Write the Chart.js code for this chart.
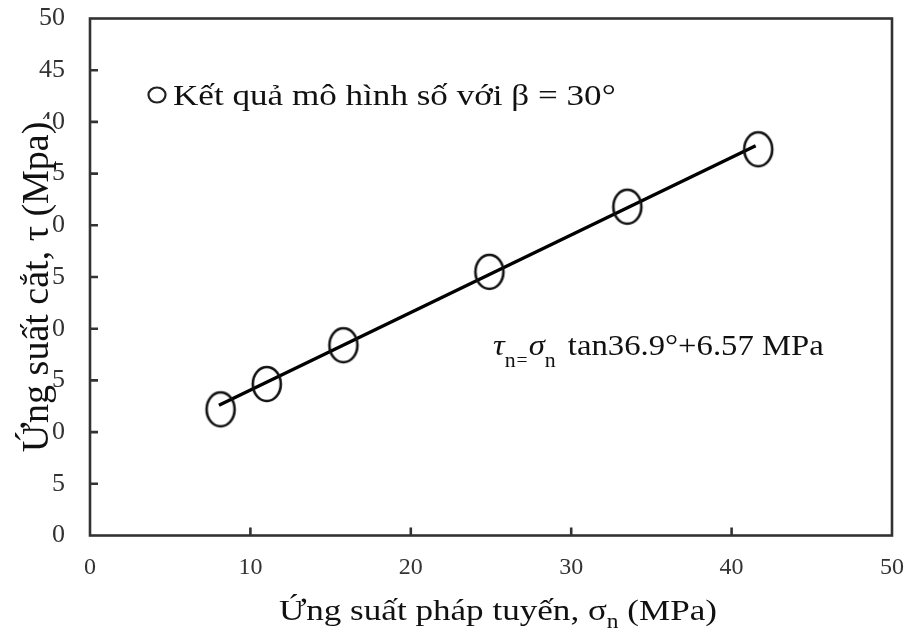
<!DOCTYPE html>
<html>
<head>
<meta charset="utf-8">
<script src="https://cdn.jsdelivr.net/npm/chart.js@4.4.1/dist/chart.umd.min.js"></script>
<style>
html,body{margin:0;padding:0;background:#fff;}
#c{display:block;}
</style>
</head>
<body>
<canvas id="c" width="908" height="632"></canvas>
<script>
// ---- data ----
const sigmaN = [8.14, 11.02, 15.8, 24.9, 33.5, 41.66];
const tauN   = [12.2, 14.65, 18.4, 25.5, 31.8, 37.35];
const fitX   = [8.04, 41.5];
const fitY   = [12.6, 37.7];
const xTicks = [0, 10, 20, 30, 40, 50];
const yTicks = [0, 5, 10, 15, 20, 25, 30, 35, 40, 45, 50];
const legendText = 'Kết quả mô hình số với β = 30°';
const xTitle = ['Ứng suất pháp tuyến, σ', 'n', ' (MPa)'];
const yTitle = 'Ứng suất cắt, τ (Mpa)';

const FONT = '"Liberation Serif", "Times New Roman", serif';
const STRETCH = 1.17;
const EQ_STRETCH = 1.09;

// ellipse marker
function makeMarker(){
  const cv = document.createElement('canvas');
  cv.width = 34; cv.height = 40;
  const g = cv.getContext('2d');
  g.strokeStyle = '#111'; g.lineWidth = 2.6;
  g.beginPath(); g.ellipse(17, 20, 14, 17, 0, 0, Math.PI*2); g.stroke();
  return cv;
}
const marker = makeMarker();

function txt(ctx, s, x, y, size, style, stretch){
  ctx.save();
  ctx.font = (style||'') + ' ' + size + 'px ' + FONT;
  const w = ctx.measureText(s).width * (stretch||1);
  ctx.translate(x, y); ctx.scale(stretch||1, 1);
  ctx.textAlign = 'left'; ctx.textBaseline = 'alphabetic';
  ctx.fillStyle = '#111';
  ctx.fillText(s, 0, 0);
  ctx.restore();
  return w;
}
function measure(ctx, s, size, style, stretch){
  ctx.save();
  ctx.font = (style||'') + ' ' + size + 'px ' + FONT;
  const w = ctx.measureText(s).width * (stretch||1);
  ctx.restore();
  return w;
}

function zeroPad(s){ s.paddingTop = 0; s.paddingBottom = 0; s.paddingLeft = 0; s.paddingRight = 0; }

const decor = {
  id: 'decor',
  afterDraw(chart){
    const ctx = chart.ctx;
    const a = chart.chartArea;
    const xs = chart.scales.x, ys = chart.scales.y;
    ctx.save();
    // frame
    ctx.strokeStyle = '#333'; ctx.lineWidth = 2.6;
    ctx.strokeRect(a.left, a.top, a.right - a.left, a.bottom - a.top);
    // inward ticks
    ctx.beginPath();
    yTicks.forEach(v => { if (v>0 && v<50){ const p = ys.getPixelForValue(v); ctx.moveTo(a.left, p); ctx.lineTo(a.left+8, p);} });
    xTicks.forEach(v => { if (v>0 && v<50){ const p = xs.getPixelForValue(v); ctx.moveTo(p, a.bottom); ctx.lineTo(p, a.bottom-8);} });
    ctx.stroke();

    // y title with white box
    ctx.fillStyle = '#fff';
    ctx.fillRect(12, 119, 40, 336);
    ctx.save();
    ctx.translate(48, 287);
    ctx.rotate(-Math.PI/2);
    ctx.font = '38px ' + FONT;
    ctx.fillStyle = '#111';
    ctx.textAlign = 'center'; ctx.textBaseline = 'alphabetic';
    ctx.fillText(yTitle, 0, 0);
    ctx.restore();

    // x title
    const w0 = measure(ctx, xTitle[0], 30, '', STRETCH);
    const w1 = measure(ctx, xTitle[1], 20, '', STRETCH);
    const w2 = measure(ctx, xTitle[2], 30, '', STRETCH);
    let x = 498 - (w0 + w1 + w2)/2;
    x += txt(ctx, xTitle[0], x, 620, 30, '', STRETCH);
    x += txt(ctx, xTitle[1], x, 628, 20, '', STRETCH);
    txt(ctx, xTitle[2], x, 620, 30, '', STRETCH);

    // legend
    ctx.strokeStyle = '#222'; ctx.lineWidth = 2.2;
    ctx.beginPath(); ctx.ellipse(157, 95, 8.5, 7.5, 0, 0, Math.PI*2); ctx.stroke();
    txt(ctx, legendText, 173, 105, 30, '', STRETCH);

    // equation
    let ex = 493;
    ex += txt(ctx, 'τ', ex, 355, 30, 'italic', EQ_STRETCH);
    ex += txt(ctx, 'n', ex, 367, 20, '', EQ_STRETCH);
    ex += txt(ctx, '=', ex+1, 366, 18, '', EQ_STRETCH) + 2;
    ex += txt(ctx, 'σ', ex, 355, 30, 'italic', EQ_STRETCH);
    ex += txt(ctx, 'n', ex, 367, 20, '', EQ_STRETCH);
    txt(ctx, ' tan36.9°+6.57 MPa', ex + 4, 355, 30, '', EQ_STRETCH);
    ctx.restore();
  }
};

new Chart(document.getElementById('c'), {
  type: 'scatter',
  data: {
    datasets: [
      {
        label: 'fit',
        data: fitX.map((v,i)=>({x:v, y:fitY[i]})),
        showLine: true,
        borderColor: '#000',
        borderWidth: 3.4,
        pointRadius: 0,
        fill: false,
        order: 2
      },
      {
        label: legendText,
        data: sigmaN.map((v,i)=>({x:v, y:tauN[i]})),
        pointStyle: marker,
        pointRadius: 15,
        pointHoverRadius: 15,
        order: 1
      }
    ]
  },
  options: {
    responsive: false,
    animation: false,
    devicePixelRatio: 1,
    layout: { padding: { top: 18.5, right: 16, left: 0, bottom: 0 } },
    plugins: { legend: { display: false }, tooltip: { enabled: false }, title: { display: false } },
    scales: {
      x: {
        type: 'linear', min: 0, max: 50,
        afterBuildTicks(s){ s.ticks = xTicks.map(v=>({value:v})); },
        grid: { display: false, drawTicks: false, tickLength: 0 },
        border: { display: false },
        ticks: { padding: 18, color: '#333', font: { family: FONT, size: 24 }, maxRotation: 0 },
        afterFit(s){ s.height = 96.5; zeroPad(s); }
      },
      y: {
        type: 'linear', min: 0, max: 50,
        afterBuildTicks(s){ s.ticks = yTicks.map(v=>({value:v})); },
        grid: { display: false, drawTicks: false, tickLength: 0 },
        border: { display: false },
        ticks: { padding: 25, color: '#333', font: { family: FONT, size: 26 } },
        afterFit(s){ s.width = 90; zeroPad(s); }
      }
    }
  },
  plugins: [decor]
});
</script>
</body>
</html>
